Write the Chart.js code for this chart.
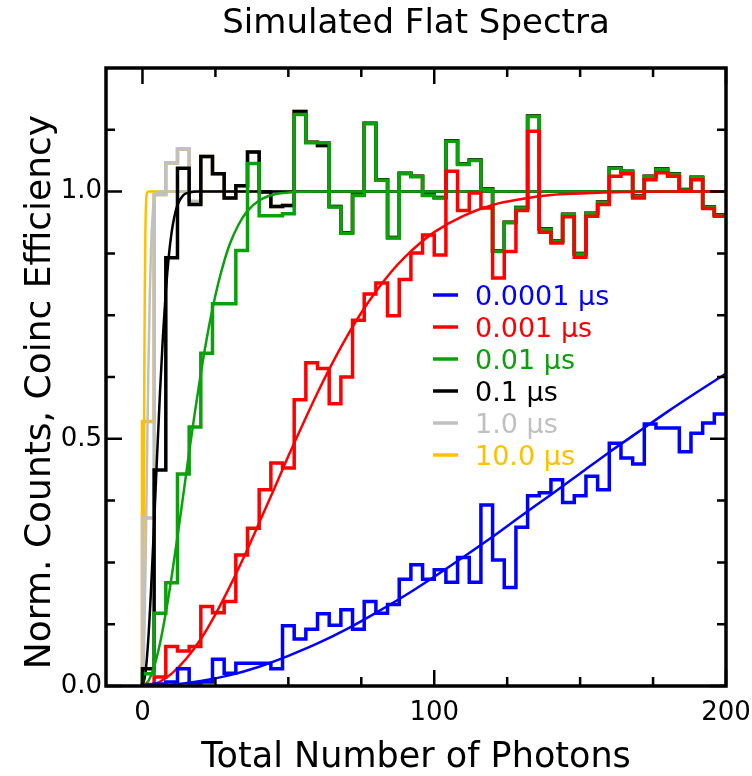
<!DOCTYPE html>
<html>
<head>
<meta charset="utf-8">
<title>Simulated Flat Spectra</title>
<script src="https://cdn.jsdelivr.net/npm/chart.js@4.4.1/dist/chart.umd.min.js"></script>
<style>
    html, body { margin: 0; padding: 0; background: #ffffff; }
    #chart { display: block; }
</style>
</head>
<body>
<canvas id="chart" width="752" height="776"></canvas>
<script>
// Simulated flat spectra: normalised counts per 4-photon bin, plus the coincidence efficiency fits

const binLeft = [0, 4, 8, 12, 16, 20, 24, 28, 32, 36, 40, 44, 48, 52, 56, 60, 64, 68, 72, 76,
    80, 84, 88, 92, 96, 100, 104, 108, 112, 116, 120, 124, 128, 132, 136, 140, 144, 148, 152, 156,
    160, 164, 168, 172, 176, 180, 184, 188, 192, 196];
const binEnd = 200;

const seriesLabels = ['0.0001 µs', '0.001 µs', '0.01 µs', '0.1 µs', '1.0 µs', '10.0 µs'];
const seriesColors = ['#0000ff', '#ff0000', '#0ca00c', '#000000', '#c0c0c0', '#ffc000'];

const blueCounts = [0.002, 0.004, 0.008, 0.035, 0.006, 0.008, 0.054, 0.026, 0.046, 0.046,
    0.046, 0.035, 0.122, 0.095, 0.115, 0.146, 0.123, 0.154, 0.115, 0.171,
    0.147, 0.165, 0.216, 0.245, 0.216, 0.235, 0.210, 0.260, 0.210, 0.366,
    0.255, 0.199, 0.321, 0.385, 0.391, 0.417, 0.371, 0.385, 0.424, 0.397,
    0.491, 0.461, 0.449, 0.530, 0.522, 0.522, 0.474, 0.511, 0.532, 0.550];

const redCounts = [0.003, 0.018, 0.080, 0.071, 0.080, 0.161, 0.148, 0.171, 0.265, 0.319,
    0.397, 0.451, 0.441, 0.579, 0.654, 0.642, 0.571, 0.625, 0.740, 0.793,
    0.815, 0.749, 0.822, 0.876, 0.912, 0.872, 1.041, 0.962, 0.997, 0.967,
    0.825, 0.879, 0.962, 1.122, 0.918, 0.896, 0.949, 0.867, 0.950, 0.974,
    1.031, 1.036, 0.987, 1.024, 1.038, 1.031, 1.001, 1.024, 0.966, 0.950];

const greenCounts = [0.025, 0.147, 0.209, 0.429, 0.524, 0.673, 0.773, 0.773, 0.881, 1.057,
    0.951, 0.951, 0.955, 1.156, 1.099, 1.099, 0.969, 0.916, 0.992, 1.137,
    1.023, 0.906, 1.036, 1.030, 0.992, 0.987, 1.102, 1.055, 1.063, 1.005,
    0.879, 0.937, 0.967, 1.152, 0.924, 0.899, 0.953, 0.874, 0.955, 0.978,
    1.047, 1.040, 0.990, 1.030, 1.045, 1.035, 1.003, 1.028, 0.968, 0.952];

const blackCounts = [0.035, 0.437, 0.866, 1.047, 0.974, 1.071, 1.036, 0.987, 1.012, 1.080,
    0.999, 0.970, 0.972, 1.162, 1.100, 1.093, 0.970, 0.917, 0.993, 1.138,
    1.024, 0.907, 1.037, 1.031, 0.993, 0.988, 1.103, 1.056, 1.064, 1.006,
    0.880, 0.938, 0.968, 1.153, 0.925, 0.900, 0.954, 0.875, 0.956, 0.979,
    1.048, 1.041, 0.991, 1.031, 1.046, 1.036, 1.004, 1.029, 0.969, 0.953];

const greyCounts = [0.340, 0.994, 1.058, 1.086, 0.980, 1.071, 1.036, 0.987, 1.012, 1.080,
    0.999, 0.970, 0.972, 1.162, 1.100, 1.093, 0.970, 0.917, 0.993, 1.138,
    1.024, 0.907, 1.037, 1.031, 0.993, 0.988, 1.103, 1.056, 1.064, 1.006,
    0.880, 0.938, 0.968, 1.153, 0.925, 0.900, 0.954, 0.875, 0.956, 0.979,
    1.048, 1.041, 0.991, 1.031, 1.046, 1.036, 1.004, 1.029, 0.969, 0.953];

const goldCounts = [0.535, 0.994, 1.058, 1.086, 0.980, 1.071, 1.036, 0.987, 1.012, 1.080,
    0.999, 0.970, 0.972, 1.162, 1.100, 1.093, 0.970, 0.917, 0.993, 1.138,
    1.024, 0.907, 1.037, 1.031, 0.993, 0.988, 1.103, 1.056, 1.064, 1.006,
    0.880, 0.938, 0.968, 1.153, 0.925, 0.900, 0.954, 0.875, 0.956, 0.979,
    1.048, 1.041, 0.991, 1.031, 1.046, 1.036, 1.004, 1.029, 0.969, 0.953];

// efficiency curves
const blueFitX = [0, 10, 20, 30, 40, 50, 60, 70, 80, 90, 100, 110, 120, 130, 140, 150, 160, 170, 180, 190, 200];
const blueFitY = [0, 0.0025, 0.010, 0.022, 0.039, 0.061, 0.086, 0.115, 0.148, 0.183, 0.221,
    0.261, 0.302, 0.345, 0.387, 0.430, 0.473, 0.514, 0.555, 0.594, 0.632];

const redFitX = [0, 5, 10, 15, 20, 25, 30, 35, 40, 45, 50, 55, 60, 65, 70, 75, 80, 85, 90, 95,
    100, 110, 120, 130, 140, 150, 165, 180, 200];
const redFitY = [0, 0.006, 0.025, 0.055, 0.095, 0.145, 0.202, 0.264, 0.330, 0.397, 0.465, 0.530,
    0.593, 0.652, 0.706, 0.755, 0.798, 0.836, 0.868, 0.895, 0.918, 0.951, 0.973, 0.985, 0.993,
    0.996, 0.999, 1.0, 1.0];

const greenFitX = [0, 2, 4, 6, 8, 10, 12, 14, 16, 18, 20, 22, 24, 26, 28, 30, 33, 36, 40, 45, 50, 60, 200];
const greenFitY = [0, 0.010, 0.039, 0.086, 0.148, 0.221, 0.302, 0.387, 0.473, 0.555, 0.632, 0.702,
    0.763, 0.815, 0.859, 0.895, 0.934, 0.961, 0.982, 0.994, 0.998, 1.0, 1.0];

const blackFitX = [0, 1, 2, 3, 4, 5, 6, 7, 8, 9, 10, 11, 12, 14, 16, 19, 200];
const blackFitY = [0, 0.025, 0.095, 0.202, 0.330, 0.465, 0.593, 0.706, 0.798, 0.868, 0.918, 0.951,
    0.973, 0.993, 0.998, 1.0, 1.0];

const greyFitX = [0, 0.5, 1, 1.5, 2, 2.5, 3, 3.5, 4, 5, 6, 200];
const greyFitY = [0, 0.061, 0.221, 0.430, 0.632, 0.790, 0.895, 0.953, 0.982, 0.998, 1.0, 1.0];

const goldFitX = [0, 0.2, 0.4, 0.6, 0.8, 1.0, 1.2, 1.5, 2, 200];
const goldFitY = [0, 0.095, 0.330, 0.593, 0.798, 0.918, 0.973, 0.996, 1.0, 1.0];

// axis ticks
const xMajorTicks = [0, 100, 200];
const xMinorTicks = [25, 50, 75, 125, 150, 175];
const yMajorTicks = [0, 0.5, 1.0];
const yMinorTicks = [0.125, 0.25, 0.375, 0.625, 0.75, 0.875, 1.125];

const FONT = "'DejaVu Sans', 'Liberation Sans', sans-serif";

function histPoints(counts) {
    const pts = [{ x: binLeft[0], y: 0 }];
    binLeft.forEach((x, i) => pts.push({ x: x, y: counts[i] }));
    pts.push({ x: binEnd, y: counts[counts.length - 1] });
    return pts;
}

function fitPoints(xs, ys) {
    return xs.map((x, i) => ({ x: x, y: ys[i] }));
}

const histograms = [blueCounts, redCounts, greenCounts, blackCounts, greyCounts, goldCounts];
const fits = [
    [blueFitX, blueFitY], [redFitX, redFitY], [greenFitX, greenFitY],
    [blackFitX, blackFitY], [greyFitX, greyFitY], [goldFitX, goldFitY]
];

// dataset 0 is painted last in Chart.js, so blue ends up on top and gold at the bottom
const datasets = [];
seriesLabels.forEach((label, i) => {
    datasets.push({
        label: label,
        data: histPoints(histograms[i]),
        borderColor: seriesColors[i],
        borderWidth: 3.5,
        stepped: 'before',
        pointRadius: 0,
        fill: false
    });
    datasets.push({
        label: label + ' fit',
        data: fitPoints(fits[i][0], fits[i][1]),
        borderColor: seriesColors[i],
        borderWidth: 2.5,
        cubicInterpolationMode: 'monotone',
        pointRadius: 0,
        fill: false
    });
});

const framePlugin = {
    id: 'frame',
    afterDraw(chart) {
        const ctx = chart.ctx;
        const area = chart.chartArea;
        const xs = chart.scales.x;
        const ys = chart.scales.y;

        ctx.save();
        ctx.strokeStyle = '#000000';

        // inward ticks on all four sides
        ctx.lineWidth = 2.5;
        const tick = (list, len) => {
            list.forEach(v => {
                const px = xs.getPixelForValue(v);
                ctx.beginPath();
                ctx.moveTo(px, area.bottom); ctx.lineTo(px, area.bottom - len);
                ctx.moveTo(px, area.top); ctx.lineTo(px, area.top + len);
                ctx.stroke();
            });
        };
        const ytick = (list, len) => {
            list.forEach(v => {
                const py = ys.getPixelForValue(v);
                ctx.beginPath();
                ctx.moveTo(area.left, py); ctx.lineTo(area.left + len, py);
                ctx.moveTo(area.right, py); ctx.lineTo(area.right - len, py);
                ctx.stroke();
            });
        };
        tick(xMajorTicks, 16);
        tick(xMinorTicks, 9);
        ytick(yMajorTicks, 16);
        ytick(yMinorTicks, 9);

        ctx.lineWidth = 3.5;
        ctx.strokeRect(area.left, area.top, area.right - area.left, area.bottom - area.top);

        // title and axis labels
        const midX = (area.left + area.right) / 2;
        const midY = (area.top + area.bottom) / 2;
        ctx.fillStyle = '#000000';
        ctx.textAlign = 'center';
        ctx.textBaseline = 'alphabetic';
        ctx.font = '34px ' + FONT;
        ctx.fillText('Simulated Flat Spectra', midX, 33);
        ctx.font = '35px ' + FONT;
        ctx.fillText('Total Number of Photons', midX, 767);

        ctx.save();
        ctx.translate(50, midY + 15);
        ctx.rotate(-Math.PI / 2);
        ctx.font = '36px ' + FONT;
        ctx.fillText('Norm. Counts, Coinc Efficiency', 0, 0);
        ctx.restore();

        // legend inside the plot
        const legendRows = [295, 327, 359, 391, 423, 455];
        ctx.textAlign = 'left';
        ctx.font = '27px ' + FONT;
        seriesLabels.forEach((label, i) => {
            const y = legendRows[i];
            ctx.strokeStyle = seriesColors[i];
            ctx.lineWidth = 3.5;
            ctx.beginPath();
            ctx.moveTo(433, y);
            ctx.lineTo(458, y);
            ctx.stroke();
            ctx.fillStyle = seriesColors[i];
            ctx.fillText(label, 475, y + 10);
        });

        ctx.restore();
    }
};

const ctx = document.getElementById('chart').getContext('2d');
new Chart(ctx, {
    type: 'line',
    data: { datasets: datasets },
    options: {
        responsive: false,
        devicePixelRatio: 1,
        animation: false,
        layout: { padding: { top: 68, right: 26, left: 0, bottom: 0 } },
        plugins: {
            legend: { display: false },
            title: { display: false },
            tooltip: { enabled: false }
        },
        scales: {
            x: {
                type: 'linear',
                min: -12.5,
                max: 200,
                afterBuildTicks: (scale) => {
                    scale.ticks = xMajorTicks.map(v => ({ value: v }));
                },
                afterFit: (scale) => {
                    scale.height = 90;
                    scale.paddingLeft = 0;
                    scale.paddingRight = 0;
                },
                grid: { display: false, drawTicks: false },
                border: { display: false },
                ticks: {
                    color: '#000000',
                    font: { family: FONT, size: 26 },
                    padding: 12,
                    maxRotation: 0,
                    autoSkip: false
                }
            },
            y: {
                type: 'linear',
                min: 0,
                max: 1.25,
                afterBuildTicks: (scale) => {
                    scale.ticks = yMajorTicks.map(v => ({ value: v }));
                },
                afterFit: (scale) => {
                    scale.width = 106;
                    scale.paddingTop = 0;
                    scale.paddingBottom = 0;
                },
                grid: { display: false, drawTicks: false },
                border: { display: false },
                ticks: {
                    color: '#000000',
                    font: { family: FONT, size: 26 },
                    padding: 4,
                    autoSkip: false,
                    callback: (value) => Number(value).toFixed(1)
                }
            }
        }
    },
    plugins: [framePlugin]
});
</script>
</body>
</html>
